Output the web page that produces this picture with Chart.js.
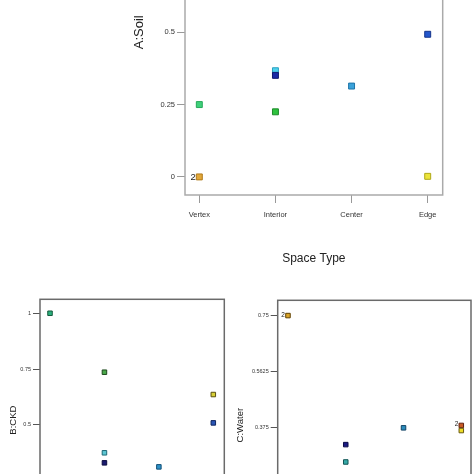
<!DOCTYPE html>
<html>
<head>
<meta charset="utf-8">
<script src="https://cdn.jsdelivr.net/npm/chart.js@4.4.1/dist/chart.umd.min.js"></script>
<style>
  html, body { margin: 0; padding: 0; width: 474px; height: 474px; overflow: hidden; background: #fff; }
  .panel { position: absolute; }
</style>
</head>
<body>
<div class="panel" style="left:120px; top:-137px; width:354px; height:417px;"><canvas id="soilChart"></canvas></div>
<div class="panel" style="left:0px; top:294px; width:234px; height:307px;"><canvas id="ckdChart"></canvas></div>
<div class="panel" style="left:230px; top:295px; width:244px; height:315px;"><canvas id="waterChart"></canvas></div>
<script>
// shared categories (x position = index)
const spaceTypes = ['Vertex', 'Interior', 'Center', 'Edge'];

// A:Soil
const soilX = [0, 0, 1, 1, 1, 2, 3, 3];
const soilY = [0.25, 0, 0.367, 0.351, 0.225, 0.314, 0.493, 0.002];
const soilCounts = [0, 2, 0, 0, 0, 0, 0, 0];
const soilFill = ['#3fd07a', '#e2a83a', '#4fd2ee', '#1a2aa6', '#2ec23e', '#3aa2da', '#2356cc', '#ece43a'];
const soilEdge = ['#26a85a', '#b07a1a', '#2aa0c0', '#101a70', '#1e8a2a', '#1e74a8', '#15358c', '#b0a818'];
const soilTicks = [0, 0.25, 0.5, 0.75, 1];

// B:CKD
const ckdX = [0, 1, 1, 1, 2, 3, 3];
const ckdY = [1.0, 0.736, 0.375, 0.33, 0.312, 0.636, 0.509];
const ckdCounts = [0, 0, 0, 0, 0, 0, 0];
const ckdFill = ['#2bb07e', '#4aa84a', '#5cc6d2', '#1a1a6e', '#2e92c8', '#d8d036', '#2a56b6'];
const ckdEdge = ['#145a3c', '#1e4a1e', '#1e6a78', '#0c0c40', '#145078', '#5a5010', '#102660'];
const ckdTicks = [0, 0.25, 0.5, 0.75, 1];

// C:Water
const waterX = [0, 1, 1, 2, 3, 3];
const waterY = [0.75, 0.319, 0.261, 0.375, 0.383, 0.366];
const waterCounts = [2, 0, 0, 0, 2, 0];
const waterFill = ['#d9a428', '#1a1a82', '#36aaa8', '#2c8cbc', '#c85a24', '#ecdc26'];
const waterEdge = ['#604000', '#0c0c48', '#125656', '#124466', '#602010', '#6a5a10'];
const waterTicks = [0, 0.1875, 0.375, 0.5625, 0.75];

// draws the plot frame round the chart area
const framePlugin = {
    id: 'frame',
    beforeDatasetsDraw(chart, args, opts) {
        const a = chart.chartArea;
        const ctx = chart.ctx;
        ctx.save();
        ctx.strokeStyle = opts.color;
        ctx.lineWidth = opts.width;
        ctx.strokeRect(a.left, a.top, a.right - a.left, a.bottom - a.top);
        ctx.restore();
    }
};

// replicate counts ("2") next to a point
const countPlugin = {
    id: 'counts',
    afterDatasetsDraw(chart, args, opts) {
        const meta = chart.getDatasetMeta(0);
        const ctx = chart.ctx;
        ctx.save();
        ctx.font = opts.font;
        ctx.fillStyle = '#222';
        ctx.textAlign = 'right';
        ctx.textBaseline = opts.baseline;
        opts.counts.forEach((c, i) => {
            if (!c) return;
            const pt = meta.data[i];
            ctx.fillText(String(c), pt.x - opts.dx, pt.y + opts.dy);
        });
        ctx.restore();
    }
};

function makeChart(id, s) {
    const ctx = document.getElementById(id).getContext('2d');
    return new Chart(ctx, {
        type: 'scatter',
        data: {
            datasets: [{
                data: s.xs.map((x, i) => ({ x: x, y: s.ys[i] })),
                pointStyle: 'rect',
                pointRadius: s.radius,
                pointHoverRadius: s.radius,
                pointBackgroundColor: s.fill,
                pointBorderColor: s.edge,
                pointBorderWidth: 1
            }]
        },
        plugins: [framePlugin, countPlugin],
        options: {
            responsive: true,
            maintainAspectRatio: false,
            animation: false,
            layout: { autoPadding: false, padding: { left: 0, top: 0, right: s.padRight, bottom: 0 } },
            plugins: {
                legend: { display: false },
                tooltip: { enabled: false },
                frame: { color: s.frameColor, width: 1.5 },
                counts: { counts: s.counts, font: s.countFont, baseline: s.countBaseline, dx: s.countDx, dy: s.countDy }
            },
            scales: {
                x: {
                    type: 'linear',
                    min: s.xMin,
                    max: s.xMax,
                    afterFit: sc => { sc.height = s.xAxisH; },
                    afterBuildTicks: sc => { sc.ticks = [0, 1, 2, 3].map(v => ({ value: v })); },
                    border: { display: false },
                    grid: { drawOnChartArea: false, drawTicks: true, tickLength: s.tickLen, color: s.tickColor, lineWidth: 1 },
                    ticks: {
                        color: '#333',
                        padding: s.xTickPad,
                        maxRotation: 0,
                        font: { family: 'Liberation Sans', size: s.tickSize },
                        callback: v => spaceTypes[v]
                    },
                    title: {
                        display: true,
                        text: 'Space Type',
                        color: '#222',
                        font: { family: 'Liberation Sans', size: 12 },
                        padding: { top: 0, bottom: s.xTitlePad }
                    }
                },
                y: {
                    min: s.yMin,
                    max: s.yMax,
                    afterFit: sc => { sc.width = s.yAxisW; },
                    afterBuildTicks: sc => { sc.ticks = s.yTicks.map(v => ({ value: v })); },
                    border: { display: false },
                    grid: { drawOnChartArea: false, drawTicks: true, tickLength: s.tickLen, color: s.tickColor, lineWidth: 1 },
                    ticks: {
                        color: '#333',
                        padding: 2,
                        font: { family: 'Liberation Sans', size: s.tickSize },
                        callback: v => String(v)
                    },
                    title: {
                        display: true,
                        text: s.yTitle,
                        color: '#222',
                        font: { family: 'Liberation Sans', size: s.yTitleSize },
                        padding: { top: s.yTitlePad, bottom: 0 }
                    }
                }
            }
        }
    });
}

makeChart('soilChart', {
    xs: soilX, ys: soilY, fill: soilFill, edge: soilEdge, counts: soilCounts,
    radius: 4.2, yTicks: soilTicks, yMin: -0.0625, yMax: 1.0625,
    xMin: -0.188, xMax: 3.197, padRight: 31.3, xAxisH: 85, yAxisW: 65,
    tickLen: 8, tickColor: '#999', tickSize: 7.5, xTickPad: 7, xTitlePad: 14,
    yTitle: 'A:Soil', yTitleSize: 13, yTitlePad: 11.5, frameColor: '#aaa',
    countFont: '9.5px "Liberation Sans"', countBaseline: 'middle', countDx: 3.5, countDy: 0
});

makeChart('ckdChart', {
    xs: ckdX, ys: ckdY, fill: ckdFill, edge: ckdEdge, counts: ckdCounts,
    radius: 3.2, yTicks: ckdTicks, yMin: -0.02, yMax: 1.0625,
    xMin: -0.184, xMax: 3.202, padRight: 9.7, xAxisH: 60, yAxisW: 40,
    tickLen: 7, tickColor: '#555', tickSize: 5.5, xTickPad: 3, xTitlePad: 10,
    yTitle: 'B:CKD', yTitleSize: 9.5, yTitlePad: 7.4, frameColor: '#6a6a6a',
    countFont: '6px "Liberation Sans"', countBaseline: 'alphabetic', countDx: 3, countDy: 1
});

makeChart('waterChart', {
    xs: waterX, ys: waterY, fill: waterFill, edge: waterEdge, counts: waterCounts,
    radius: 3.2, yTicks: waterTicks, yMin: -0.033, yMax: 0.801,
    xMin: -0.178, xMax: 3.168, padRight: 3, xAxisH: 60, yAxisW: 47.7,
    tickLen: 7, tickColor: '#555', tickSize: 5.5, xTickPad: 3, xTitlePad: 10,
    yTitle: 'C:Water', yTitleSize: 9.5, yTitlePad: 5, frameColor: '#6a6a6a',
    countFont: '6.5px "Liberation Sans"', countBaseline: 'alphabetic', countDx: 3, countDy: 1
});
</script>
</body>
</html>
